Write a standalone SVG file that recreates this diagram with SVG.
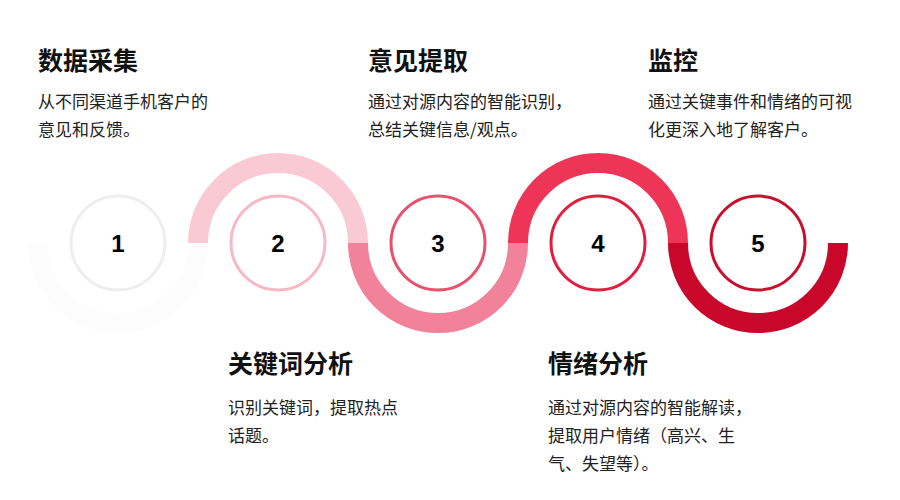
<svg xmlns="http://www.w3.org/2000/svg" width="900" height="500" viewBox="0 0 900 500">
<style>
.arc{fill:none;stroke-width:20}
.ring{fill:#fff;stroke-width:3}
.num{font-family:"Liberation Sans",Arial,sans-serif;font-weight:bold;font-size:24px;fill:#000;text-anchor:middle}
.t{font-family:"Noto Sans CJK SC","Noto Sans",sans-serif;font-weight:bold;font-size:25px;fill:#111}
.b{font-family:"Noto Sans CJK SC","Noto Sans",sans-serif;font-size:17px;fill:#222}
</style>
<rect width="900" height="500" fill="#fff"/>
<g id="connectors">
<path class="arc" d="M38,243 A80,80 0 0 0 198,243" stroke="#fdfdfd"/>
<path class="arc" d="M198,243 A80,80 0 0 1 358,243" stroke="#f9cad3"/>
<path class="arc" d="M358,243 A80,80 0 0 0 518,243" stroke="#f2819a"/>
<path class="arc" d="M518,243 A80,80 0 0 1 678,243" stroke="#ef3557"/>
<path class="arc" d="M678,243 A80,80 0 0 0 838,243" stroke="#c8072b"/>
</g>
<g id="n1"><circle class="ring" cx="118" cy="243" r="47" stroke="#eeeeee"/><text class="num" x="118" y="252">1</text>
<text class="t" x="38" y="70">数据采集</text><text class="b" x="38" y="108">从不同渠道手机客户的</text><text class="b" x="38" y="136">意见和反馈。</text></g>
<g id="n2"><circle class="ring" cx="278" cy="243" r="47" stroke="#f7b8c4"/><text class="num" x="278" y="252">2</text>
<text class="t" x="228" y="373">关键词分析</text><text class="b" x="228" y="414">识别关键词，提取热点</text><text class="b" x="228" y="442">话题。</text></g>
<g id="n3"><circle class="ring" cx="438" cy="243" r="47" stroke="#e8506c"/><text class="num" x="438" y="252">3</text>
<text class="t" x="368" y="70">意见提取</text><text class="b" x="368" y="108">通过对源内容的智能识别，</text><text class="b" x="368" y="136">总结关键信息/观点。</text></g>
<g id="n4"><circle class="ring" cx="598" cy="243" r="47" stroke="#e01f40"/><text class="num" x="598" y="252">4</text>
<text class="t" x="548" y="373">情绪分析</text><text class="b" x="548" y="414">通过对源内容的智能解读，</text><text class="b" x="548" y="442">提取用户情绪（高兴、生</text><text class="b" x="548" y="470">气、失望等）。</text></g>
<g id="n5"><circle class="ring" cx="758" cy="243" r="47" stroke="#c8102e"/><text class="num" x="758" y="252">5</text>
<text class="t" x="648" y="70">监控</text><text class="b" x="648" y="108">通过关键事件和情绪的可视</text><text class="b" x="648" y="136">化更深入地了解客户。</text></g>
</svg>
